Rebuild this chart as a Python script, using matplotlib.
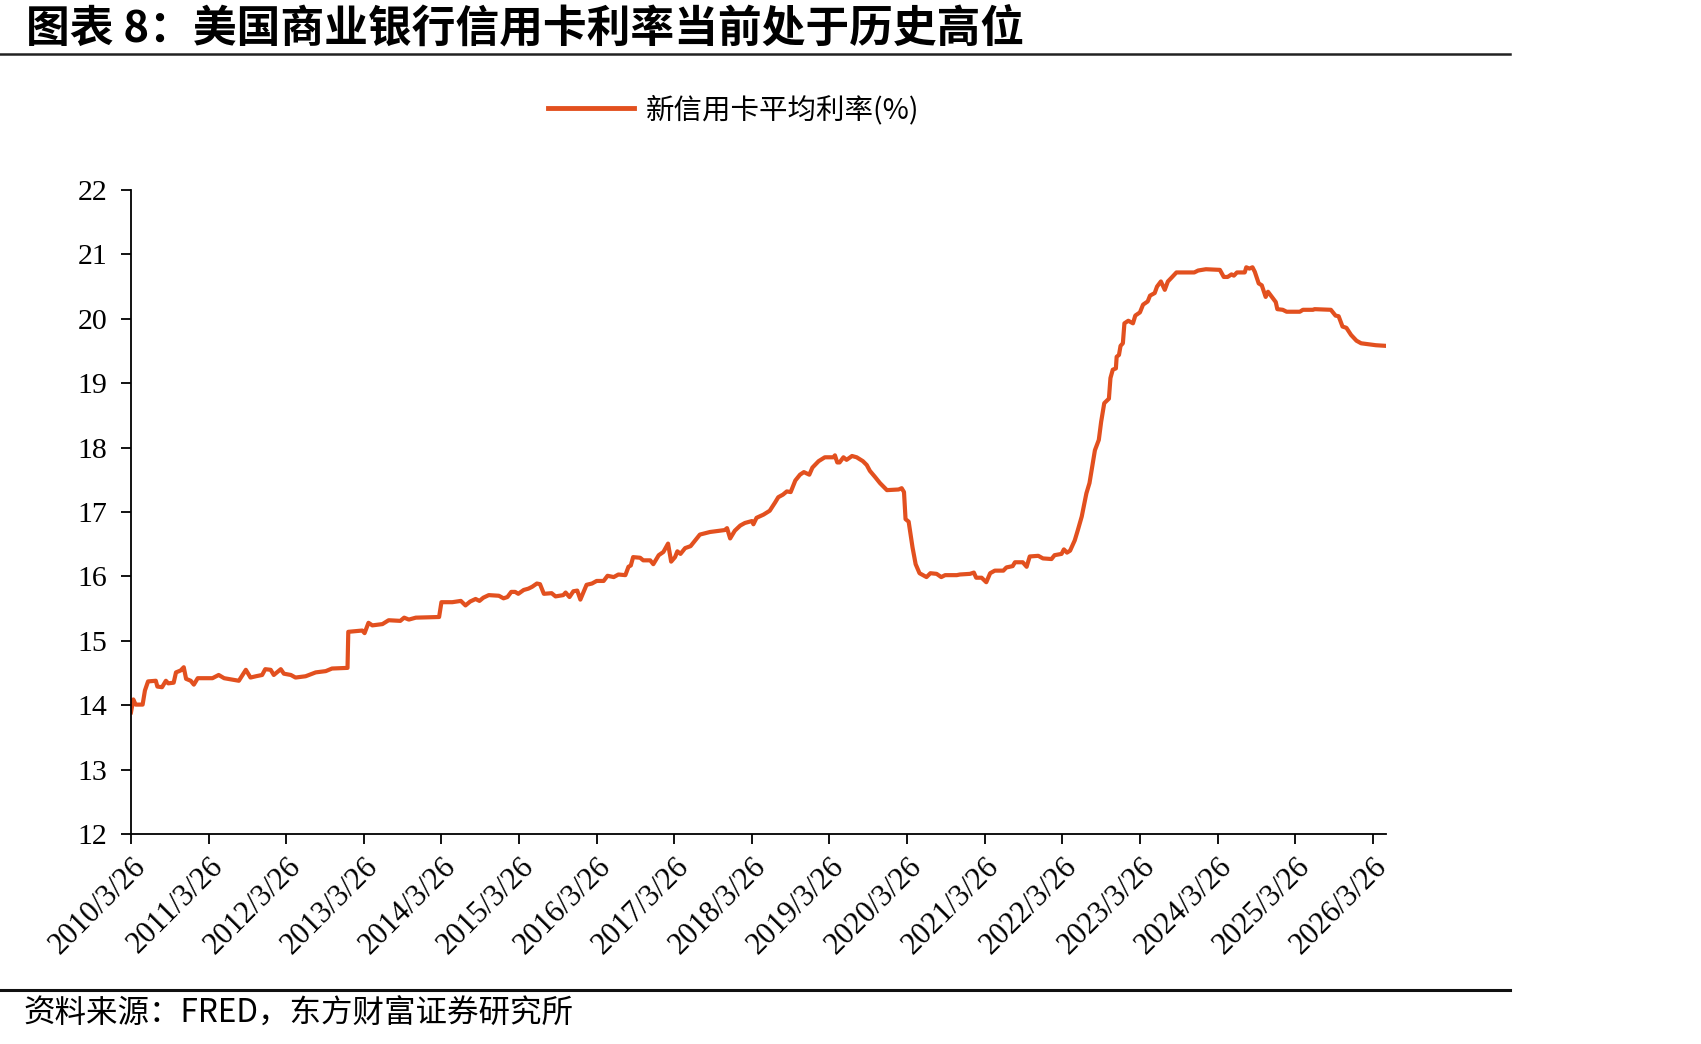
# 美国商业银行新信用卡平均利率 line chart

import matplotlib
matplotlib.use("Agg")
import matplotlib.pyplot as plt
from matplotlib.lines import Line2D

# data: years after 2010/3/26, and rate in %
start_year = 2010.23
offset_years = [
    0.00, 0.03, 0.06, 0.15, 0.18, 0.22, 0.32, 0.34, 0.40, 0.45, 0.48, 0.55, 0.58, 0.64, 0.68,
    0.71, 0.77, 0.81, 0.86, 1.05, 1.13, 1.20, 1.39, 1.48, 1.54, 1.61, 1.69, 1.73, 1.80, 1.84,
    1.93, 1.97, 2.06, 2.12, 2.25, 2.38, 2.51, 2.59, 2.79, 2.80, 2.98, 3.01, 3.06, 3.11, 3.24,
    3.32, 3.47, 3.52, 3.58, 3.67, 3.97, 4.00, 4.14, 4.25, 4.31, 4.37, 4.44, 4.49, 4.54, 4.61,
    4.74, 4.80, 4.85, 4.90, 4.95, 4.99, 5.06, 5.12, 5.17, 5.23, 5.27, 5.32, 5.42, 5.47, 5.57,
    5.60, 5.65, 5.70, 5.75, 5.79, 5.87, 5.94, 6.00, 6.09, 6.14, 6.22, 6.28, 6.37, 6.41, 6.44,
    6.47, 6.56, 6.60, 6.69, 6.73, 6.80, 6.86, 6.92, 6.96, 7.01, 7.04, 7.08, 7.14, 7.21, 7.27,
    7.33, 7.46, 7.65, 7.68, 7.72, 7.78, 7.85, 7.91, 8.00, 8.02, 8.06, 8.15, 8.23, 8.30, 8.34,
    8.40, 8.45, 8.50, 8.56, 8.62, 8.67, 8.74, 8.78, 8.86, 8.94, 9.05, 9.07, 9.10, 9.13, 9.18,
    9.22, 9.29, 9.35, 9.43, 9.48, 9.52, 9.59, 9.65, 9.74, 9.89, 9.93, 9.96, 9.98, 10.02, 10.07,
    10.11, 10.16, 10.25, 10.30, 10.38, 10.44, 10.49, 10.64, 10.68, 10.81, 10.86, 10.89, 10.96,
    11.02, 11.07, 11.13, 11.24, 11.28, 11.36, 11.39, 11.49, 11.54, 11.58, 11.69, 11.75, 11.86,
    11.90, 11.99, 12.02, 12.06, 12.10, 12.16, 12.20, 12.25, 12.31, 12.35, 12.42, 12.47, 12.50,
    12.54, 12.60, 12.62, 12.65, 12.69, 12.70, 12.73, 12.75, 12.78, 12.80, 12.85, 12.91, 12.94,
    13.00, 13.04, 13.10, 13.13, 13.19, 13.22, 13.27, 13.32, 13.36, 13.40, 13.47, 13.70, 13.75,
    13.85, 14.03, 14.08, 14.13, 14.18, 14.21, 14.25, 14.35, 14.37, 14.41, 14.45, 14.48, 14.53,
    14.57, 14.62, 14.65, 14.70, 14.75, 14.77, 14.84, 14.89, 15.06, 15.10, 15.23, 15.25, 15.46,
    15.52, 15.56, 15.61, 15.66, 15.72, 15.79, 15.85, 15.91, 16.04, 16.17,
]
rates = [
    13.89, 14.09, 14.01, 14.01, 14.23, 14.37, 14.38, 14.29, 14.28, 14.38, 14.34, 14.35, 14.51, 14.54, 14.59,
    14.41, 14.38, 14.32, 14.42, 14.42, 14.47, 14.42, 14.38, 14.55, 14.43, 14.45, 14.47, 14.56, 14.55, 14.47,
    14.56, 14.49, 14.47, 14.43, 14.45, 14.51, 14.53, 14.57, 14.58, 15.14, 15.16, 15.12, 15.28, 15.24, 15.26,
    15.32, 15.31, 15.36, 15.33, 15.36, 15.37, 15.60, 15.60, 15.62, 15.55, 15.61, 15.65, 15.62, 15.67, 15.71,
    15.70, 15.66, 15.68, 15.76, 15.76, 15.73, 15.79, 15.81, 15.84, 15.89, 15.88, 15.73, 15.74, 15.69, 15.71,
    15.75, 15.68, 15.77, 15.78, 15.64, 15.87, 15.89, 15.93, 15.93, 16.01, 15.99, 16.03, 16.02, 16.15, 16.17,
    16.30, 16.29, 16.25, 16.25, 16.19, 16.33, 16.38, 16.51, 16.23, 16.30, 16.39, 16.35, 16.44, 16.47, 16.56,
    16.65, 16.69, 16.72, 16.75, 16.59, 16.71, 16.79, 16.83, 16.86, 16.81, 16.91, 16.96, 17.02, 17.15, 17.23,
    17.27, 17.32, 17.31, 17.49, 17.58, 17.62, 17.58, 17.69, 17.79, 17.85, 17.85, 17.88, 17.77, 17.77, 17.85,
    17.81, 17.87, 17.85, 17.79, 17.73, 17.64, 17.54, 17.45, 17.34, 17.35, 17.37, 17.31, 16.89, 16.85, 16.45,
    16.19, 16.05, 15.99, 16.05, 16.04, 15.99, 16.02, 16.02, 16.03, 16.04, 16.06, 15.98, 15.98,
    15.91, 16.05, 16.09, 16.09, 16.14, 16.16, 16.22, 16.22, 16.15, 16.31, 16.32, 16.28, 16.27,
    16.33, 16.35, 16.42, 16.37, 16.40, 16.56, 16.72, 16.93, 17.29, 17.45, 17.96, 18.12, 18.40,
    18.69, 18.76, 19.08, 19.21, 19.23, 19.41, 19.44, 19.58, 19.62, 19.93, 19.97, 19.93, 20.05,
    20.10, 20.22, 20.27, 20.36, 20.40, 20.50, 20.58, 20.45, 20.58, 20.63, 20.72, 20.72, 20.75,
    20.77, 20.76, 20.65, 20.65, 20.69, 20.67, 20.72, 20.72, 20.80, 20.78, 20.80, 20.73, 20.55,
    20.52, 20.34, 20.42, 20.34, 20.26, 20.15, 20.14, 20.11, 20.11, 20.14, 20.14, 20.15, 20.14,
    20.05, 20.04, 19.88, 19.86, 19.75, 19.66, 19.62, 19.61, 19.59, 19.58,
]
tick_years = list(range(2010, 2027))
tick_labels = [f"{y}/3/26" for y in tick_years]

title = "图表 8：美国商业银行信用卡利率当前处于历史高位"
legend_label = "新信用卡平均利率(%)"
source = "资料来源：FRED，东方财富证券研究所"

line_color = "#E2501F"
cjk = ["Noto Sans CJK SC", "DejaVu Sans"]
serif = "Liberation Serif"

x = [start_year + t for t in offset_years]

fig = plt.figure(figsize=(17.01, 10.44), dpi=100)
ax = fig.add_axes([0.0770, 0.2011, 0.7378, 0.6169])

ax.plot(x, rates, color=line_color, lw=3.0, solid_joinstyle="round")

ax.set_xlim(start_year, start_year + 16.17)
ax.set_ylim(12, 22)
ax.set_yticks(range(12, 23))
ax.set_xticks([start_year + (y - 2010) for y in tick_years])
ax.set_xticklabels(tick_labels, rotation=45, ha="right", va="top", rotation_mode="anchor")

for side in ["top", "right"]:
    ax.spines[side].set_visible(False)
for side in ["left", "bottom"]:
    ax.spines[side].set_linewidth(1.3)
ax.tick_params(axis="y", direction="out", length=7, width=1.3, labelsize=21.5, pad=10)
ax.tick_params(axis="x", direction="out", length=7, width=1.3, labelsize=22, pad=6)
for lab in ax.get_xticklabels() + ax.get_yticklabels():
    lab.set_fontfamily(serif)

# legend at the top
handle = Line2D([], [], color=line_color, lw=3.5)
leg = fig.legend([handle], [legend_label], loc="center", bbox_to_anchor=(0.4315, 0.8946),
                 frameon=False, handlelength=3.0, handletextpad=0.45,
                 prop={"family": cjk, "size": 20.5})

# title, rules and source
fig.text(0.015, 0.973, title, fontsize=31.5, fontweight="bold", family=cjk, va="center", ha="left")
fig.add_artist(Line2D([0, 0.888], [0.948, 0.948], color="#222222", lw=1.8))
fig.add_artist(Line2D([0, 0.888], [0.0517, 0.0517], color="#111111", lw=2.2))
fig.text(0.014, 0.0287, source, fontsize=22.7, family=cjk, va="center", ha="left")

plt.savefig("out.png", dpi=100)
